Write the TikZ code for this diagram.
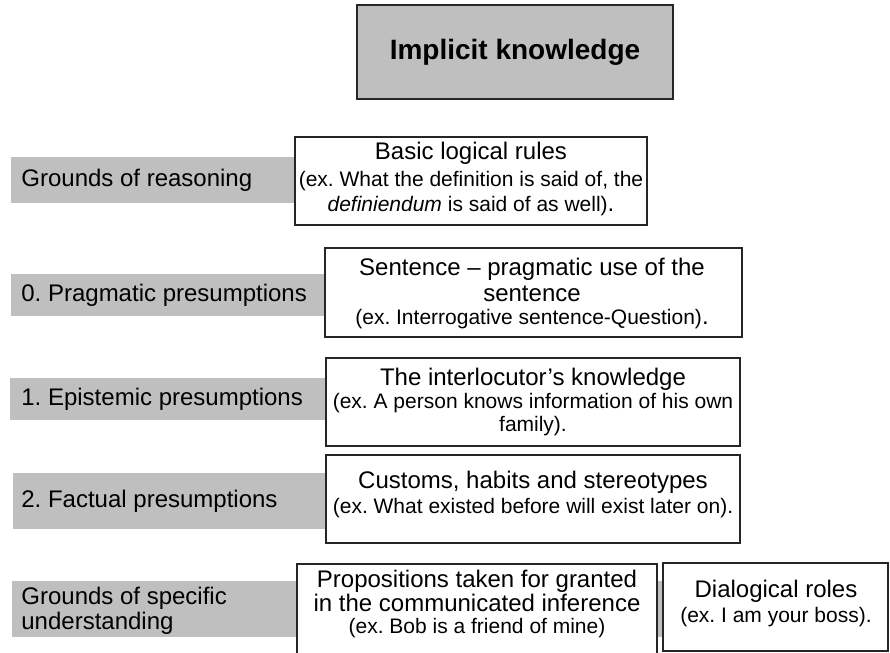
\documentclass[tikz,border=0pt]{standalone}
\usepackage{fontspec}
\setmainfont{Liberation Sans}
\frenchspacing
\newcommand{\ex}[1]{{\fontsize{10.5}{11.5}\selectfont #1}}

\begin{document}
\begin{tikzpicture}[x=0.5pt,y=-0.5pt,
    bar/.style={fill=black!25},
    box/.style={draw=black!85,line width=0.9pt,fill=white},
    txt/.style={align=center,inner sep=0pt,font=\fontsize{12}{12.5}\selectfont},
    lbl/.style={anchor=west,align=left,inner sep=0pt,font=\fontsize{12}{12.5}\selectfont}]
  \useasboundingbox (0,0) rectangle (890,653);
  % title
  \draw[box,fill=black!25] (357,5) rectangle (673,99);
  \node[txt,font=\bfseries\fontsize{14}{16}\selectfont] (title) at (515,52) {Implicit knowledge};
  % grey bars behind the rows
  \fill[bar] (11,157) rectangle (295,203);
  \fill[bar] (11,274) rectangle (325,316);
  \fill[bar] (10,378) rectangle (325,420);
  \fill[bar] (13,473) rectangle (325,529);
  \fill[bar] (12,581) rectangle (664,637);
  \node[lbl] (reasoning) at (21,180) {Grounds of reasoning};
  \node[lbl] (pragmatic) at (21,295) {0. Pragmatic presumptions};
  \node[lbl] (epistemic) at (21,399) {1. Epistemic presumptions};
  \node[lbl] (factual) at (21,501) {2. Factual presumptions};
  \node[lbl] (specific) at (21,611) {Grounds of specific\\understanding};
  % boxes
  \draw[box] (295,137) rectangle (647,225);
  \node[txt] (logic) at (471,179) {Basic logical rules\\[1pt]
    \ex{(ex. What the definition is said of, the}\\
    \ex{\textit{definiendum} is said of as well)}.};
  \draw[box] (325,248) rectangle (742,337);
  \node[txt] (sentence) at (532,293) {Sentence -- pragmatic use of the\\[0.5pt]
    sentence\\[-1pt]
    \ex{(ex. Interrogative sentence-Question)}.};
  \draw[box] (326,358) rectangle (740,446);
  \node[txt] (knowledge) at (533,402) {The interlocutor’s knowledge\\[-1pt]
    \ex{(ex. A person knows information of his own}\\[-1pt]
    \ex{family).}};
  \draw[box] (326,455) rectangle (740,543);
  \node[txt] (customs) at (533,494) {Customs, habits and stereotypes\\
    \ex{(ex. What existed before will exist later on).}};
  \draw[box] (297,564) rectangle (657,658);
  \node[txt] (propositions) at (477,604) {Propositions taken for granted\\[-0.5pt]
    in the communicated inference\\[-1.5pt]
    \ex{(ex. Bob is a friend of mine)}};
  \draw[box] (663,563) rectangle (888,651);
  \node[txt] (roles) at (776,603) {Dialogical roles\\
    \ex{(ex. I am your boss).}};
\end{tikzpicture}
\end{document}
